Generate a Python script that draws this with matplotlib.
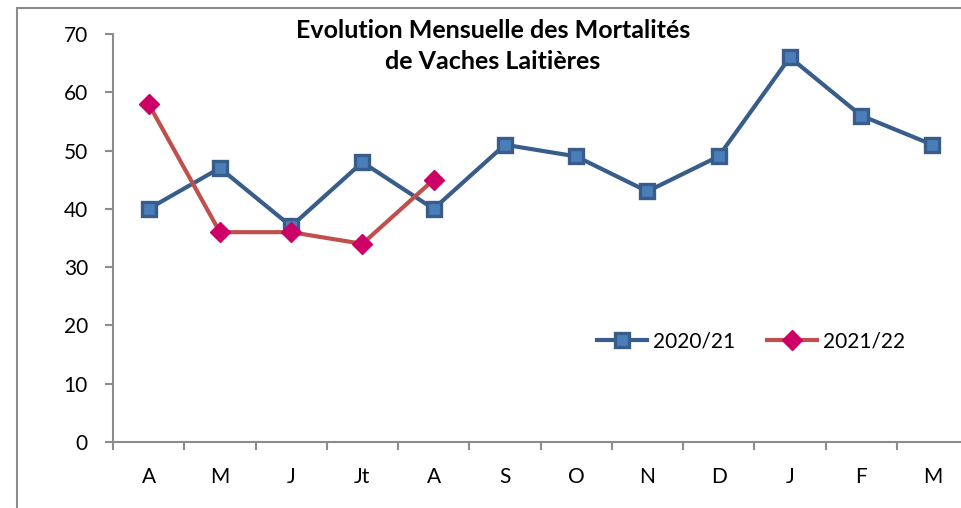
"""
Monthly dairy cow mortality, two campaigns, Excel-style line chart.
"""

import matplotlib.pyplot as plt
from matplotlib.patches import Rectangle

MONTHS = ["A", "M", "J", "Jt", "A", "S", "O", "N", "D", "J", "F", "M"]
MORT_2020_21 = [40, 47, 37, 48, 40, 51, 49, 43, 49, 66, 56, 51]
MORT_2021_22 = [58, 36, 36, 34, 45]
LABELS = ["2020/21", "2021/22"]
TITLE = "Evolution Mensuelle des Mortalités\nde Vaches Laitières"

W, H = 961, 508


def plot_mortality():
    plt.rcParams["font.family"] = ["Lato", "DejaVu Sans"]
    fig = plt.figure(figsize=(W / 100, H / 100), dpi=100)

    # outer chart frame (left and top visible, rest cropped)
    fig.patches.append(Rectangle((17 / W, -0.1), 1.2, 1.1 - 8 / H,
                                 transform=fig.transFigure, fill=False,
                                 edgecolor="#8c8c8c", linewidth=1.5))

    ax = fig.add_axes([113 / W, 1 - 442 / H, 855 / W, 408 / H])
    x1 = list(range(len(MORT_2020_21)))
    x2 = list(range(len(MORT_2021_22)))

    ax.plot(x1, MORT_2020_21, color="#385D8A", linewidth=3, marker="s",
            markersize=10, markerfacecolor="#4A7EBB", markeredgecolor="#385D8A",
            markeredgewidth=2.4, label=LABELS[0], zorder=3)
    ax.plot(x2, MORT_2021_22, color="#C0504D", linewidth=3, marker="D",
            markersize=10, markerfacecolor="#CC0066", markeredgecolor="#CC0066",
            label=LABELS[1], zorder=4)

    ax.set_xlim(-0.5, len(MONTHS) - 0.5)
    ax.set_ylim(0, 70)
    ax.set_yticks(range(0, 71, 10))
    ax.set_xticks(x1)
    ax.set_xticklabels(MONTHS)
    ax.set_xticks([i - 0.5 for i in range(len(MONTHS) + 1)], minor=True)

    for side in ("top", "right"):
        ax.spines[side].set_visible(False)
    for side in ("left", "bottom"):
        ax.spines[side].set_color("#8c8c8c")
        ax.spines[side].set_linewidth(1.5)

    ax.tick_params(axis="y", direction="out", length=6, width=1.5,
                   color="#8c8c8c", labelsize=15, pad=12)
    ax.tick_params(axis="x", which="major", length=0, labelsize=15, pad=18)
    ax.tick_params(axis="x", which="minor", direction="out", length=6,
                   width=1.5, color="#8c8c8c")

    fig.text(493 / W, 1 - 46 / H, TITLE, ha="center", va="center",
             fontsize=18, fontweight="bold", linespacing=1.45)

    ax.legend(loc="center", bbox_to_anchor=((751 - 113) / 855, (442 - 341) / 408),
              ncol=2, frameon=False, fontsize=15, handlelength=2.4,
              handletextpad=0.3, columnspacing=1.5)

    fig.savefig("out.png", dpi=100)


if __name__ == "__main__":
    plot_mortality()
